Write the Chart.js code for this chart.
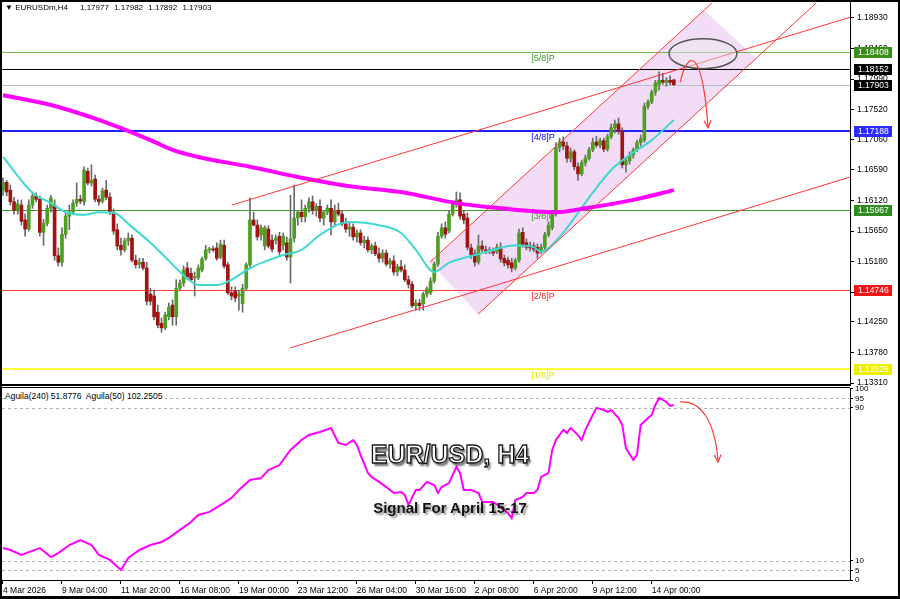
<!DOCTYPE html>
<html>
<head>
<meta charset="utf-8">
<title>EUR/USD H4</title>
<script src="https://cdn.jsdelivr.net/npm/chart.js@4.4.1/dist/chart.umd.min.js"></script>
<style>
  html, body { margin: 0; padding: 0; background: #fff; }
  #wrap { position: relative; width: 900px; height: 599px; overflow: hidden; background: #fff; }
  #wrap canvas { position: absolute; left: 0; }
  #priceChart { top: 0; }
  #aguilaChart { top: 386px; }
  #frame { position: absolute; left: 0; top: 0; width: 896px; height: 594px; border: 2px solid #000; border-bottom-width: 3px; pointer-events: none; }
  .txt { position: absolute; font-family: "Liberation Sans", "DejaVu Sans", Arial, sans-serif; font-size: 8px; color: #000; white-space: pre; line-height: 10px; }
  #title { position: absolute; left: 0; width: 900px; top: 442px; text-align: center; font: bold 25px/25px "Liberation Sans", Arial, sans-serif; color: #fff; -webkit-text-stroke: 1.3px #151515; text-shadow: 2px 3px 2px rgba(0,0,0,0.55); }
  #sub { position: absolute; left: 0; width: 900px; top: 500px; text-align: center; font: bold 15px/15px "Liberation Sans", Arial, sans-serif; color: #111; text-shadow: 2px 2px 2px rgba(0,0,0,0.45); }
</style>
</head>
<body>
<div id="wrap">
  <canvas id="priceChart" width="900" height="386"></canvas>
  <canvas id="aguilaChart" width="900" height="213"></canvas>
  <div class="txt" style="left:5px;top:3px;">▼ EURUSDm,H4</div>
  <div class="txt" style="left:80px;top:3px;word-spacing:3px;">1.17977 1.17982 1.17892 1.17903</div>
  <div class="txt" style="left:5px;top:391px;font-size:8.5px;background:#fff;padding-right:3px;">Aguila(240) 51.8776  Aguila(50) 102.2505</div>
  <div id="title">EUR/USD, H4</div>
  <div id="sub">Signal For April 15-17</div>
  <div id="frame"></div>
</div>
<script>
// H4 candles, index 0 = 4 Mar 2026 (first visible bar)
const opens = [
  1.1628,1.1640,1.1628,1.1610,1.1597,1.1605,1.1582,1.1568,1.1605,1.1619,
  1.1614,1.1563,1.1577,1.1600,1.1605,1.1527,1.1517,1.1560,1.1588,1.1594,
  1.1608,1.1614,1.1610,1.1657,1.1639,1.1645,1.1614,1.1611,1.1628,1.1617,
  1.1594,1.1567,1.1543,1.1536,1.1550,1.1554,1.1520,1.1514,1.1517,1.1508,
  1.1468,1.1465,1.1440,1.1423,1.1416,1.1433,1.1451,1.1433,1.1477,1.1485,
  1.1508,1.1500,1.1493,1.1493,1.1505,1.1523,1.1536,1.1537,1.1539,1.1525,
  1.1543,1.1513,1.1470,1.1473,1.1465,1.1453,1.1477,1.1513,1.1582,1.1574,
  1.1559,1.1542,1.1568,1.1551,1.1551,1.1557,1.1543,1.1547,1.1525,1.1554,
  1.1585,1.1594,1.1587,1.1600,1.1610,1.1597,1.1603,1.1585,1.1594,1.1600,
  1.1579,1.1597,1.1591,1.1576,1.1568,1.1571,1.1556,1.1562,1.1547,1.1551,
  1.1536,1.1542,1.1530,1.1523,1.1531,1.1514,1.1519,1.1502,1.1510,1.1505,
  1.1490,1.1483,1.1450,1.1454,1.1453,1.1468,1.1470,1.1488,1.1514,1.1557,
  1.1570,1.1565,1.1591,1.1607,1.1613,1.1591,1.1585,1.1539,1.1530,1.1517,
  1.1542,1.1536,1.1534,1.1533,1.1533,1.1540,1.1523,1.1520,1.1516,1.1508,
  1.1520,1.1563,1.1547,1.1543,1.1542,1.1540,1.1533,1.1540,1.1559,1.1570,
  1.1593,1.1694,1.1702,1.1696,1.1677,1.1687,1.1664,1.1653,1.1670,1.1677,
  1.1690,1.1702,1.1697,1.1704,1.1691,1.1710,1.1724,1.1730,1.1719,1.1667,
  1.1673,1.1682,1.1690,1.1701,1.1705,1.1757,1.1764,1.1779,1.1791,1.1797,
  1.1794,1.1797,1.17977
];
const highs = [
  1.1647,1.1643,1.1636,1.1617,1.1613,1.1613,1.1591,1.1613,1.1625,1.1624,
  1.1619,1.1583,1.1605,1.1620,1.1613,1.1539,1.1570,1.1594,1.1605,1.1613,
  1.1639,1.1620,1.1664,1.1662,1.1667,1.1651,1.1620,1.1631,1.1643,1.1624,
  1.1599,1.1576,1.1554,1.1554,1.1562,1.1559,1.1528,1.1523,1.1523,1.1517,
  1.1477,1.1474,1.1451,1.1431,1.1440,1.1454,1.1459,1.1490,1.1490,1.1511,
  1.1517,1.1508,1.1502,1.1513,1.1525,1.1543,1.1540,1.1542,1.1547,1.1551,
  1.1551,1.1517,1.1479,1.1479,1.1474,1.1483,1.1516,1.1616,1.1594,1.1582,
  1.1574,1.1573,1.1573,1.1559,1.1559,1.1563,1.1562,1.1556,1.1620,1.1636,
  1.1597,1.1613,1.1605,1.1616,1.1619,1.1607,1.1613,1.1597,1.1605,1.1613,
  1.1605,1.1608,1.1597,1.1585,1.1579,1.1576,1.1567,1.1567,1.1557,1.1556,
  1.1545,1.1548,1.1539,1.1536,1.1536,1.1523,1.1527,1.1514,1.1520,1.1513,
  1.1496,1.1487,1.1459,1.1460,1.1471,1.1479,1.1493,1.1517,1.1563,1.1576,
  1.1579,1.1596,1.1611,1.1625,1.1624,1.1597,1.1593,1.1545,1.1536,1.1559,
  1.1550,1.1542,1.1540,1.1539,1.1545,1.1547,1.1528,1.1525,1.1523,1.1523,
  1.1568,1.1570,1.1553,1.1548,1.1547,1.1545,1.1545,1.1563,1.1579,1.1597,
  1.1701,1.1708,1.1710,1.1702,1.1693,1.1690,1.1670,1.1674,1.1682,1.1694,
  1.1708,1.1711,1.1708,1.1708,1.1714,1.1730,1.1736,1.1739,1.1724,1.1677,
  1.1687,1.1693,1.1705,1.1713,1.1762,1.1767,1.1782,1.1797,1.1810,1.1808,
  1.1801,1.1804,1.17982
];
const lows = [
  1.1620,1.1619,1.1605,1.1591,1.1591,1.1574,1.1557,1.1565,1.1600,1.1610,
  1.1557,1.1543,1.1573,1.1594,1.1520,1.1511,1.1511,1.1554,1.1567,1.1590,
  1.1603,1.1607,1.1605,1.1636,1.1634,1.1610,1.1605,1.1608,1.1613,1.1590,
  1.1560,1.1536,1.1528,1.1533,1.1543,1.1517,1.1508,1.1508,1.1505,1.1451,
  1.1451,1.1428,1.1416,1.1409,1.1413,1.1428,1.1420,1.1420,1.1474,1.1480,
  1.1490,1.1487,1.1465,1.1490,1.1502,1.1520,1.1531,1.1533,1.1520,1.1522,
  1.1508,1.1467,1.1459,1.1456,1.1443,1.1440,1.1474,1.1508,1.1573,1.1551,
  1.1551,1.1536,1.1539,1.1533,1.1545,1.1528,1.1536,1.1520,1.1485,1.1548,
  1.1574,1.1579,1.1579,1.1594,1.1591,1.1588,1.1579,1.1574,1.1590,1.1559,
  1.1574,1.1588,1.1573,1.1563,1.1557,1.1551,1.1548,1.1543,1.1539,1.1533,
  1.1530,1.1527,1.1517,1.1517,1.1511,1.1508,1.1497,1.1496,1.1502,1.1487,
  1.1477,1.1447,1.1443,1.1443,1.1443,1.1463,1.1467,1.1485,1.1511,1.1554,
  1.1554,1.1562,1.1588,1.1602,1.1583,1.1576,1.1536,1.1523,1.1511,1.1514,
  1.1533,1.1530,1.1530,1.1527,1.1530,1.1517,1.1511,1.1508,1.1502,1.1505,
  1.1517,1.1540,1.1536,1.1534,1.1533,1.1523,1.1530,1.1537,1.1556,1.1567,
  1.1588,1.1687,1.1690,1.1671,1.1671,1.1659,1.1643,1.1650,1.1665,1.1674,
  1.1687,1.1694,1.1693,1.1687,1.1688,1.1707,1.1716,1.1714,1.1662,1.1656,
  1.1668,1.1677,1.1687,1.1696,1.1702,1.1753,1.1761,1.1774,1.1782,1.1791,
  1.1788,1.1790,1.17892
];
const closes = [
  1.1640,1.1625,1.1610,1.1597,1.1607,1.1580,1.1568,1.1605,1.1619,1.1614,
  1.1563,1.1577,1.1600,1.1616,1.1527,1.1517,1.1560,1.1588,1.1594,1.1608,
  1.1614,1.1611,1.1659,1.1639,1.1643,1.1614,1.1610,1.1627,1.1617,1.1594,
  1.1565,1.1542,1.1536,1.1550,1.1554,1.1520,1.1513,1.1517,1.1508,1.1457,
  1.1457,1.1433,1.1420,1.1416,1.1436,1.1448,1.1433,1.1477,1.1485,1.1505,
  1.1494,1.1490,1.1494,1.1508,1.1522,1.1536,1.1537,1.1536,1.1523,1.1545,
  1.1511,1.1470,1.1465,1.1462,1.1468,1.1477,1.1513,1.1582,1.1574,1.1556,
  1.1570,1.1570,1.1542,1.1537,1.1554,1.1533,1.1557,1.1525,1.1553,1.1585,
  1.1594,1.1587,1.1600,1.1610,1.1597,1.1603,1.1585,1.1594,1.1600,1.1579,
  1.1597,1.1591,1.1576,1.1568,1.1571,1.1556,1.1562,1.1547,1.1551,1.1536,
  1.1542,1.1530,1.1523,1.1531,1.1514,1.1519,1.1502,1.1510,1.1505,1.1490,
  1.1483,1.1450,1.1454,1.1450,1.1468,1.1476,1.1488,1.1514,1.1557,1.1570,
  1.1560,1.1591,1.1607,1.1613,1.1588,1.1582,1.1540,1.1528,1.1517,1.1542,
  1.1537,1.1534,1.1536,1.1531,1.1540,1.1522,1.1516,1.1513,1.1508,1.1520,
  1.1562,1.1543,1.1540,1.1539,1.1537,1.1531,1.1540,1.1559,1.1574,1.1593,
  1.1694,1.1702,1.1696,1.1677,1.1687,1.1664,1.1653,1.1670,1.1677,1.1690,
  1.1702,1.1697,1.1704,1.1691,1.1710,1.1724,1.1730,1.1719,1.1667,1.1673,
  1.1682,1.1690,1.1701,1.1707,1.1757,1.1764,1.1779,1.1793,1.1797,1.1794,
  1.1797,1.1794,1.17903
];

// moving averages (sampled at bar indices)
const ma200Idx = [0,13,26,40,46,53,67,81,94,108,123,135,150,158,171,182];
const ma200Val = [1.1774,1.1759,1.1736,1.1705,1.1690,1.1679,1.1664,1.1647,1.1634,1.1625,1.1608,1.1600,1.1594,1.1600,1.1613,1.1628];
const ma21Idx = [0,8,13,17,22,26,30,35,40,44,49,53,58,62,67,72,76,81,86,94,102,108,112,117,121,126,130,135,139,144,146,151,156,160,165,170,176,182];
const ma21Val = [1.1679,1.1624,1.1608,1.1594,1.1590,1.1594,1.1593,1.1571,1.1547,1.1525,1.1497,1.1482,1.1482,1.1490,1.1508,1.1520,1.1528,1.1536,1.1559,1.1579,1.1574,1.1562,1.1536,1.1502,1.1516,1.1525,1.1531,1.1539,1.1543,1.1540,1.1533,1.1556,1.1593,1.1624,1.1659,1.1682,1.1705,1.1736];

// Aguila oscillator
const aguilaIdx = [0,2,5,7,10,13,15,18,21,24,26,29,32,34,37,40,43,45,48,51,53,56,59,62,64,67,70,72,75,78,81,83,86,89,91,93,95,96,97,99,100,102,104,106,108,109,110,112,113,115,117,118,119,121,123,124,125,127,129,130,132,133,135,137,138,139,141,142,144,145,146,148,149,150,152,153,154,156,157,158,160,161,163,164,165,167,168,169,171,172,173,175,176,177,178,180,181,182];
const aguilaVal = [16.7,15.7,13.1,14.6,16.7,12.0,14.1,18.3,20.9,18.3,13.1,10.5,5.2,11.5,15.7,18.3,19.9,22.0,26.2,30.3,34.0,35.6,39.2,42.9,47.1,52.3,53.3,57.5,60.1,68.0,73.2,75.8,77.4,79.5,71.7,70.6,73.2,70.6,65.4,56.0,53.9,51.3,48.6,45.5,46.0,44.5,39.2,47.1,47.1,51.3,49.7,45.5,48.6,50.7,59.1,56.0,47.1,47.1,45.5,40.8,40.8,40.8,38.2,35.0,32.4,41.8,43.4,45.5,45.5,47.1,53.9,56.0,68.0,73.2,78.5,76.9,79.5,75.8,73.2,78.5,86.3,90.0,88.9,87.9,88.9,84.7,81.1,69.0,62.8,65.4,81.1,84.7,86.3,91.5,95.2,93.1,91.0,91.5];
const aguilaLevels = [95, 90, 10, 5];
const aguilaTicks = [0, 5, 10, 90, 95, 100];

// axes
const xTickIdx = [0,16,32,48,64,80,96,112,128,144,160,176];
const xTickLabels = ['4 Mar 2026','9 Mar 04:00','11 Mar 20:00','16 Mar 08:00','19 Mar 00:00','23 Mar 12:00','26 Mar 04:00','30 Mar 16:00','2 Apr 08:00','6 Apr 20:00','9 Apr 12:00','14 Apr 00:00'];
const priceTicks = [1.13310,1.13780,1.14250,1.14710,1.15180,1.15650,1.16120,1.16590,1.17060,1.17520,1.17990,1.18460,1.18930];

// horizontal levels (Murrey + ask/bid)
const levelPrices = [1.18408, 1.18152, 1.17903, 1.17188, 1.15967, 1.14746, 1.13525];
const levelColors = ['#6cbb4e', '#000000', '#b4bccb', '#2020ff', '#3f9a2c', '#ff3c3c', '#ffff3a'];
const levelWidths = [1, 1, 1, 2, 1, 1, 2];
const boxColors = ['#3a8e1a', '#000000', '#000000', '#2b2bff', '#2f8a1f', '#f01414', '#eeee00'];
const murreyNames = ['[5/8]P', '[4/8]P', '[3/8]P', '[2/8]P', '[1/8]P'];
const murreyPrices = [1.18408, 1.17188, 1.15967, 1.14746, 1.13525];
const murreyColors = ['#3a9a2a', '#0000ff', '#3a9a2a', '#ff2020', '#e6e600'];
const murreyAt = 143.3;

// drawn objects, in (bar index, price)
const trendLines = [
  [[115.8, 1.1517], [192.3, 1.1916]],
  [[128.9, 1.1437], [220.6, 1.1916]],
  [[62.1, 1.1605], [229.8, 1.1894]],
  [[77.9, 1.1385], [229.8, 1.1648]]
];
const channelShade = [[115.8, 1.1517], [128.9, 1.1437], [204.3, 1.1831], [190.2, 1.1905]];
const ellipseAt = [189.9, 1.1838];
const ellipseSize = [9.2, 0.0023];
const arrowPrice = [[183.7, 1.1794], [185.8, 1.1844], [189.6, 1.1851], [191.3, 1.1724]];
const arrowAguila = [[183.7, 93.1], [189.1, 94.1], [193.2, 83.7], [194.0, 61.7]];

const X_MIN = -0.27, X_MAX = 229.79;
const FONT = '"Liberation Sans", Arial, sans-serif';
Chart.defaults.font.family = FONT;
Chart.defaults.color = '#000';

const barIdx = opens.map((_, i) => i);

// drop the label half-height padding chart.js adds, MT4 doesn't have it
const noPad = ax => { ax.paddingTop = 0; ax.paddingBottom = 0; ax.paddingLeft = 0; ax.paddingRight = 0; };

function curveArrow(ctx, pts) {
  ctx.beginPath();
  ctx.moveTo(pts[0][0], pts[0][1]);
  ctx.bezierCurveTo(pts[1][0], pts[1][1], pts[2][0], pts[2][1], pts[3][0], pts[3][1]);
  ctx.stroke();
  const [ex, ey] = pts[3], [cx, cy] = pts[2];
  const ang = Math.atan2(ey - cy, ex - cx);
  ctx.beginPath();
  ctx.moveTo(ex - 8 * Math.cos(ang - 0.45), ey - 8 * Math.sin(ang - 0.45));
  ctx.lineTo(ex, ey);
  ctx.lineTo(ex - 8 * Math.cos(ang + 0.45), ey - 8 * Math.sin(ang + 0.45));
  ctx.stroke();
}

const pricePlugin = {
  id: 'pricePlugin',
  beforeDatasetsDraw(chart) {
    const { ctx, chartArea: a, scales: { x, y } } = chart;
    ctx.save();
    ctx.beginPath(); ctx.rect(a.left, a.top, a.width, a.height); ctx.clip();
    ctx.beginPath();
    channelShade.forEach(([i, p], k) => {
      const px = x.getPixelForValue(i), py = y.getPixelForValue(p);
      k ? ctx.lineTo(px, py) : ctx.moveTo(px, py);
    });
    ctx.closePath();
    ctx.fillStyle = '#f3dcf6';
    ctx.fill();
    levelPrices.forEach((p, k) => {
      const py = Math.round(y.getPixelForValue(p)) + (levelWidths[k] % 2 ? 0.5 : 0);
      ctx.strokeStyle = levelColors[k];
      ctx.lineWidth = levelWidths[k];
      ctx.beginPath(); ctx.moveTo(a.left, py); ctx.lineTo(a.right, py); ctx.stroke();
    });
    ctx.font = '9px ' + FONT;
    ctx.textBaseline = 'top';
    murreyNames.forEach((t, k) => {
      ctx.fillStyle = murreyColors[k];
      ctx.fillText(t, x.getPixelForValue(murreyAt), y.getPixelForValue(murreyPrices[k]) + 2);
    });
    ctx.restore();
  },
  afterDatasetsDraw(chart) {
    const { ctx, chartArea: a, scales: { x, y } } = chart;
    ctx.save();
    ctx.beginPath(); ctx.rect(a.left, a.top, a.width, a.height); ctx.clip();
    const cx = x.getPixelForValue(ellipseAt[0]), cy = y.getPixelForValue(ellipseAt[1]);
    const rx = x.getPixelForValue(ellipseAt[0] + ellipseSize[0]) - cx;
    const ry = cy - y.getPixelForValue(ellipseAt[1] + ellipseSize[1]);
    ctx.beginPath(); ctx.ellipse(cx, cy, rx, ry, 0, 0, Math.PI * 2);
    ctx.fillStyle = 'rgba(235,235,235,0.45)'; ctx.fill();
    ctx.strokeStyle = '#555'; ctx.lineWidth = 1.5; ctx.stroke();
    ctx.strokeStyle = '#ff3a3a'; ctx.lineWidth = 1.2;
    curveArrow(ctx, arrowPrice.map(([i, p]) => [x.getPixelForValue(i), y.getPixelForValue(p)]));
    ctx.restore();
  },
  afterDraw(chart) {
    const { ctx, chartArea: a, scales: { y } } = chart;
    ctx.save();
    ctx.fillStyle = '#000';
    ctx.fillRect(a.left, a.bottom, a.right - a.left + 1, 2);
    ctx.font = '8.5px ' + FONT;
    ctx.textBaseline = 'middle';
    levelPrices.forEach((p, k) => {
      const py = Math.round(y.getPixelForValue(p));
      ctx.fillStyle = boxColors[k];
      ctx.fillRect(a.right + 4, py - 5, 38, 11);
      ctx.fillStyle = '#fff';
      ctx.fillText(p.toFixed(5), a.right + 8, py + 0.5);
    });
    ctx.restore();
  }
};

const aguilaPlugin = {
  id: 'aguilaPlugin',
  beforeDatasetsDraw(chart) {
    const { ctx, chartArea: a, scales: { y } } = chart;
    ctx.save();
    ctx.strokeStyle = '#b0b0b0'; ctx.lineWidth = 1; ctx.setLineDash([3, 3]);
    aguilaLevels.forEach(v => {
      const py = Math.round(y.getPixelForValue(v)) + 0.5;
      ctx.beginPath(); ctx.moveTo(a.left, py); ctx.lineTo(a.right, py); ctx.stroke();
    });
    ctx.restore();
  },
  afterDatasetsDraw(chart) {
    const { ctx, scales: { x, y } } = chart;
    ctx.save();
    ctx.strokeStyle = '#ff3a3a'; ctx.lineWidth = 1.2;
    curveArrow(ctx, arrowAguila.map(([i, v]) => [x.getPixelForValue(i), y.getPixelForValue(v)]));
    ctx.restore();
  },
  afterDraw(chart) {
    const { ctx, chartArea: a } = chart;
    ctx.save();
    ctx.fillStyle = '#000';
    ctx.fillRect(a.left, a.top - 1, a.right - a.left, 1);
    ctx.restore();
  }
};

const lineSet = (xs, ys, color, width, order) => ({
  type: 'line', order,
  data: xs.map((v, k) => ({ x: v, y: ys[k] })),
  borderColor: color, borderWidth: width, pointRadius: 0, fill: false,
  cubicInterpolationMode: 'monotone'
});

const priceSets = [
  ...trendLines.map(seg => ({
    type: 'line', order: 1,
    data: seg.map(([i, p]) => ({ x: i, y: p })),
    borderColor: '#ff3333', borderWidth: 1, pointRadius: 0, fill: false
  })),
  lineSet(ma200Idx, ma200Val, '#ff00ff', 4, 2),
  lineSet(ma21Idx, ma21Val, '#3fd8d0', 2, 3),
  {
    type: 'bar', order: 4, grouped: false,
    data: barIdx.map(i => ({ x: i, y: [Math.min(opens[i], closes[i]), Math.max(opens[i], closes[i])] })),
    backgroundColor: barIdx.map(i => closes[i] >= opens[i] ? '#4c9f1f' : '#a11212'),
    barThickness: 3, minBarLength: 1
  },
  {
    type: 'bar', order: 5, grouped: false,
    data: barIdx.map(i => ({ x: i, y: [lows[i], highs[i]] })),
    backgroundColor: '#6a6a6a',
    barThickness: 1, minBarLength: 1
  }
];

new Chart(document.getElementById('priceChart'), {
  type: 'bar',
  data: { datasets: priceSets },
  options: {
    responsive: false, animation: false, devicePixelRatio: 1,
    layout: { padding: { left: 2, top: 2, right: 0, bottom: 2 } },
    plugins: { legend: { display: false }, tooltip: { enabled: false } },
    scales: {
      x: { type: 'linear', min: X_MIN, max: X_MAX, offset: false, display: false },
      y: {
        type: 'linear', position: 'right', min: 1.13295, max: 1.19176,
        afterBuildTicks: ax => { ax.ticks = priceTicks.map(v => ({ value: v })); },
        afterFit: ax => { ax.width = 50; noPad(ax); },
        grid: { drawOnChartArea: false, drawTicks: true, tickLength: 4, color: '#000' },
        border: { display: true, color: '#000', width: 1 },
        ticks: { autoSkip: false, padding: 3, color: '#000', font: { size: 8.5 }, callback: v => v.toFixed(5) }
      }
    }
  },
  plugins: [pricePlugin]
});

new Chart(document.getElementById('aguilaChart'), {
  type: 'line',
  data: {
    datasets: [{
      data: aguilaIdx.map((v, k) => ({ x: v, y: aguilaVal[k] })),
      borderColor: '#ff00ff', borderWidth: 2, pointRadius: 0, fill: false, tension: 0
    }]
  },
  options: {
    responsive: false, animation: false, devicePixelRatio: 1,
    layout: { padding: { left: 2, top: 2, right: 0, bottom: 2 } },
    plugins: { legend: { display: false }, tooltip: { enabled: false } },
    scales: {
      x: {
        type: 'linear', min: X_MIN, max: X_MAX, offset: false,
        afterBuildTicks: ax => { ax.ticks = xTickIdx.map(v => ({ value: v })); },
        afterFit: ax => { ax.height = 17; noPad(ax); },
        grid: { drawOnChartArea: false, drawTicks: true, tickLength: 4, color: '#000' },
        border: { display: true, color: '#000', width: 1 },
        ticks: { autoSkip: false, maxRotation: 0, align: 'start', padding: 2, color: '#000', font: { size: 8.5 },
                 callback: (v, k) => xTickLabels[k] }
      },
      y: {
        type: 'linear', position: 'right', min: 0, max: 100.4,
        afterBuildTicks: ax => { ax.ticks = aguilaTicks.map(v => ({ value: v })); },
        afterFit: ax => { ax.width = 50; noPad(ax); },
        grid: { drawOnChartArea: false, drawTicks: true, tickLength: 3, color: '#000' },
        border: { display: true, color: '#000', width: 1 },
        ticks: { autoSkip: false, padding: 2, color: '#000', font: { size: 8 } }
      }
    }
  },
  plugins: [aguilaPlugin]
});
</script>
</body>
</html>
